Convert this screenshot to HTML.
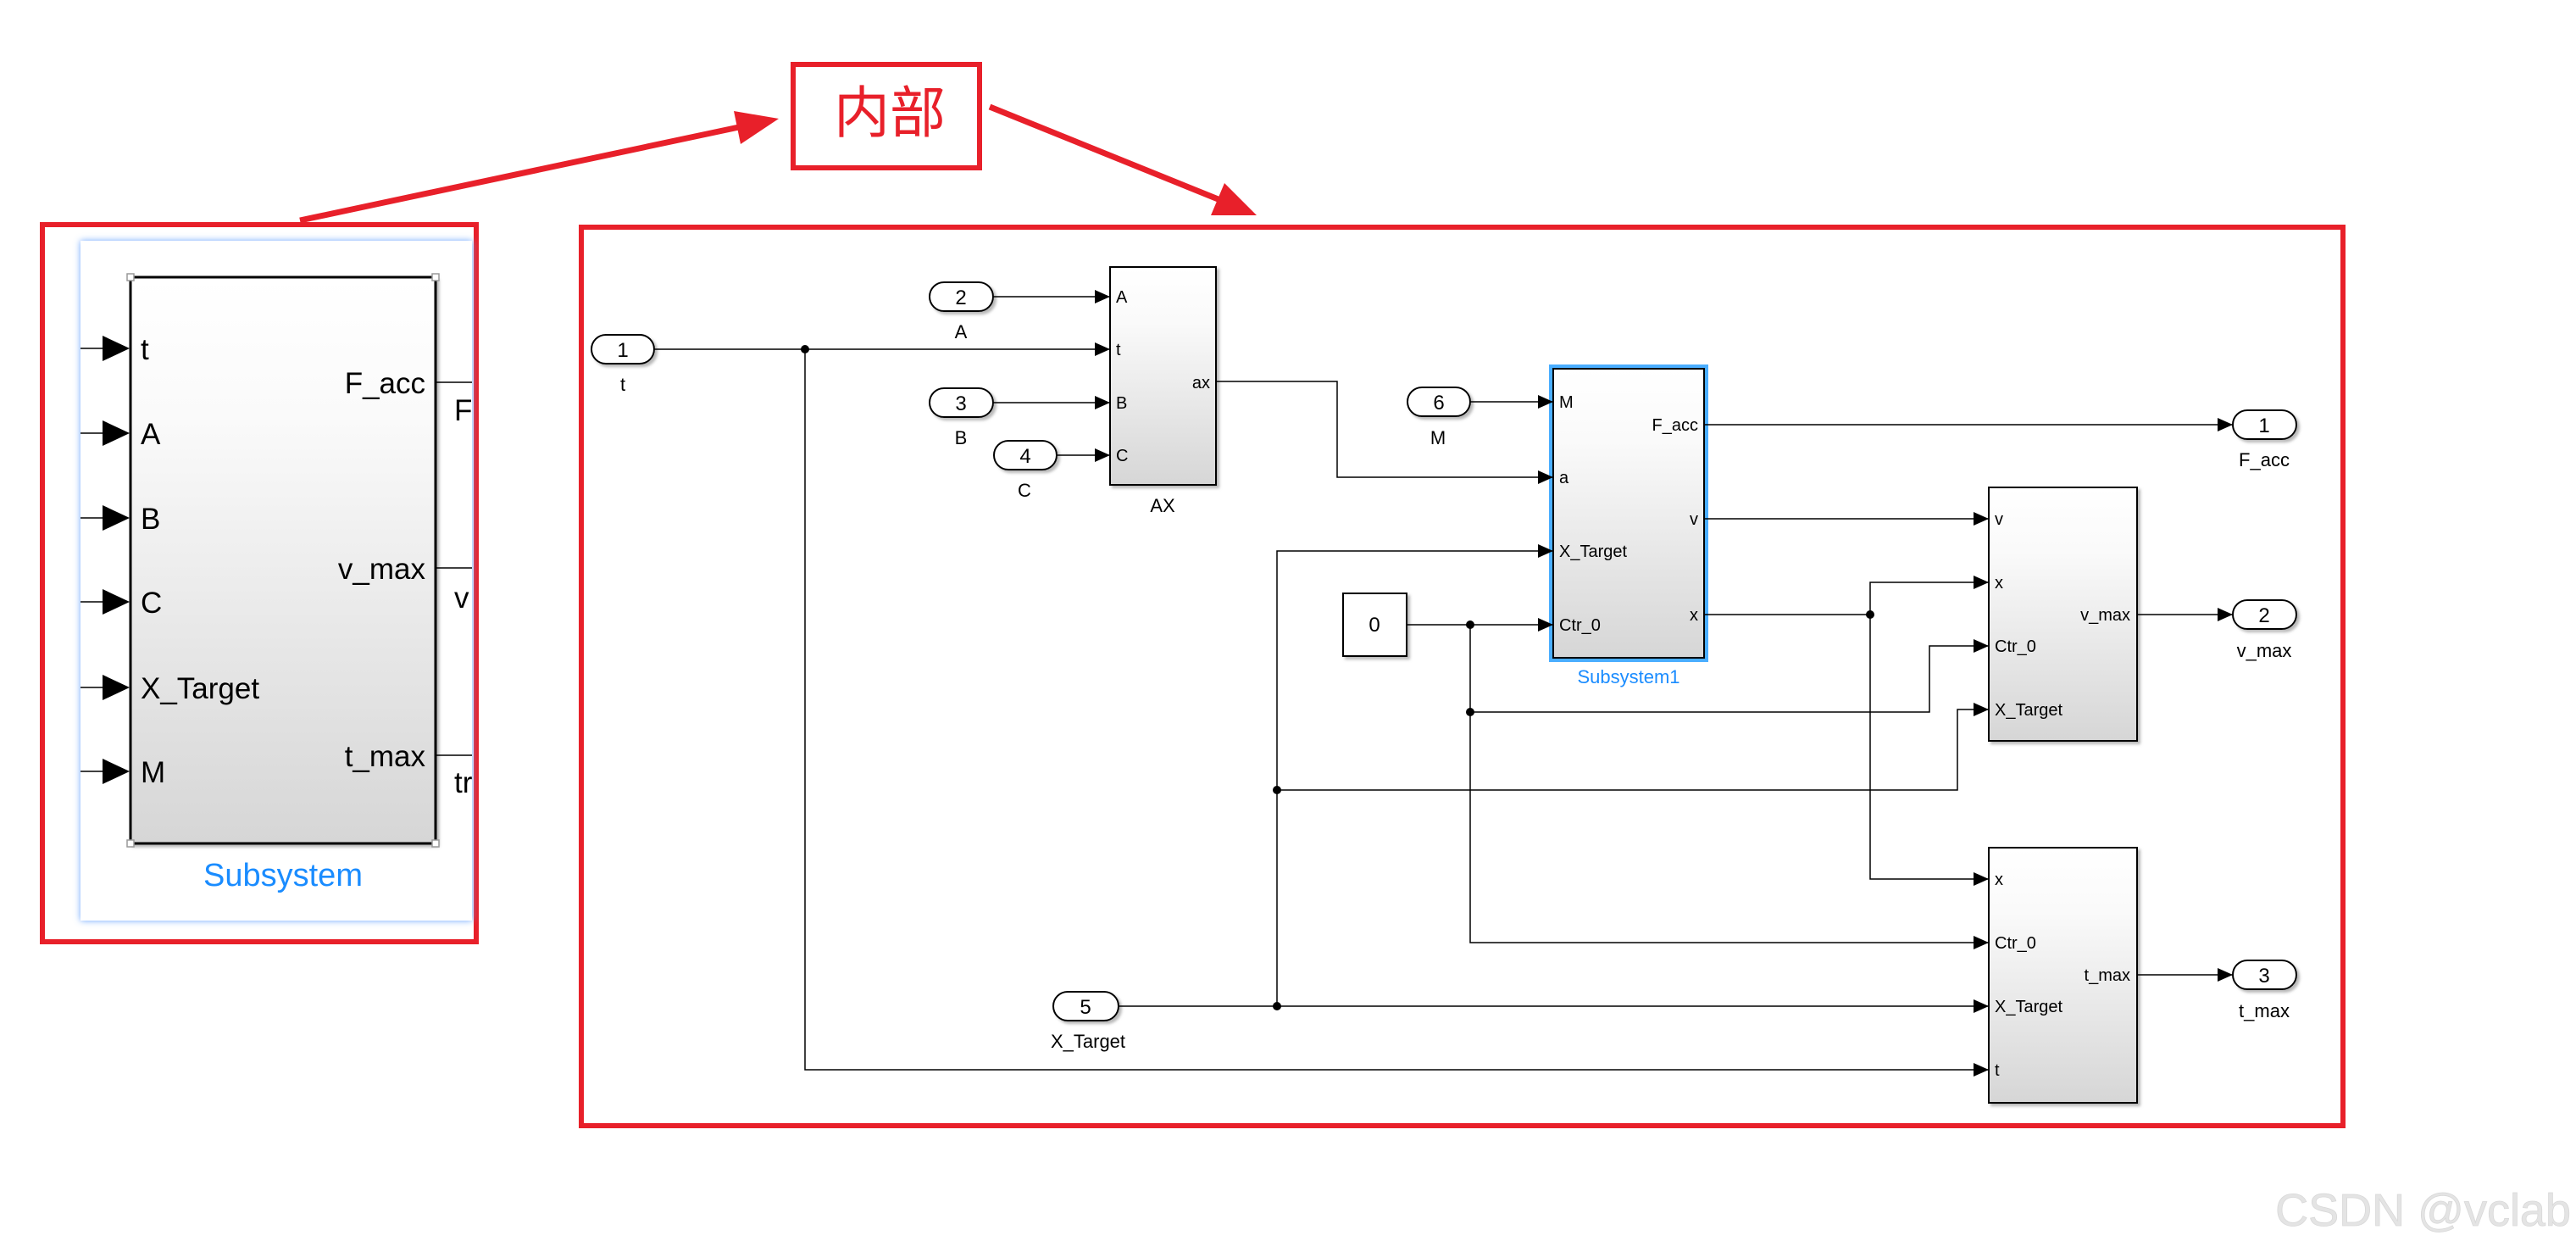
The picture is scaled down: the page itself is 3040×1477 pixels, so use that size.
<!DOCTYPE html>
<html><head><meta charset="utf-8"><style>
html,body{margin:0;padding:0;background:#fff;}
svg{display:block;}
text{font-family:"Liberation Sans","Noto Sans CJK SC",sans-serif;}
</style></head><body>
<svg width="3040" height="1477" viewBox="0 0 3040 1477" xmlns="http://www.w3.org/2000/svg">
<defs>
<marker id="a" markerUnits="userSpaceOnUse" markerWidth="18" markerHeight="16" refX="18" refY="8" orient="auto"><path d="M0,0 L18,8 L0,16 z" fill="#000"/></marker>
<linearGradient id="g" x1="0" y1="0" x2="0" y2="1"><stop offset="0" stop-color="#fff"/><stop offset="0.25" stop-color="#fafafa"/><stop offset="1" stop-color="#d6d6d6"/></linearGradient>
<filter id="sh" x="-10%" y="-10%" width="130%" height="130%"><feDropShadow dx="3" dy="3" stdDeviation="1.5" flood-color="#888" flood-opacity="0.6"/></filter>
<filter id="glow" x="-5%" y="-5%" width="110%" height="110%"><feDropShadow dx="0" dy="0" stdDeviation="4" flood-color="#6aa4ff" flood-opacity="1"/></filter>
</defs>

<rect x="936" y="76" width="220" height="122" fill="none" stroke="#e8202a" stroke-width="6"/>
<text x="1050" y="156" font-size="66" fill="#e8202a" text-anchor="middle">内部</text>
<line x1="354" y1="260" x2="872" y2="150" stroke="#e8202a" stroke-width="7"/>
<polygon points="919,140 874,170 866,131" fill="#e8202a"/>
<line x1="1168" y1="126" x2="1440" y2="236" stroke="#e8202a" stroke-width="7"/>
<polygon points="1483,254 1429,254 1445,216" fill="#e8202a"/>

<rect x="50" y="265" width="512" height="846" fill="none" stroke="#e8202a" stroke-width="6"/>
<rect x="95" y="284" width="462" height="802" fill="#fff" filter="url(#glow)"/>
<rect x="95" y="284" width="462" height="802" fill="#fff"/>
<rect x="154" y="327" width="360" height="668" fill="url(#g)" stroke="#000" stroke-width="3" filter="url(#sh)"/>
<g fill="#fff" stroke="#999" stroke-width="1.5">
<rect x="150" y="323" width="8" height="8"/><rect x="510" y="323" width="8" height="8"/>
<rect x="150" y="991" width="8" height="8"/><rect x="510" y="991" width="8" height="8"/></g>
<g stroke="#000" stroke-width="1.5">
<line x1="95" y1="411" x2="122" y2="411"/><line x1="95" y1="511" x2="122" y2="511"/><line x1="95" y1="611" x2="122" y2="611"/>
<line x1="95" y1="710" x2="122" y2="710"/><line x1="95" y1="811" x2="122" y2="811"/><line x1="95" y1="910" x2="122" y2="910"/>
<line x1="515" y1="451" x2="557" y2="451"/><line x1="515" y1="670" x2="557" y2="670"/><line x1="515" y1="891" x2="557" y2="891"/>
</g>
<g fill="#000">
<polygon points="121,396 153,411 121,426"/><polygon points="121,496 153,511 121,526"/><polygon points="121,596 153,611 121,626"/>
<polygon points="121,695 153,710 121,725"/><polygon points="121,796 153,811 121,826"/><polygon points="121,895 153,910 121,925"/>
</g>
<g font-size="35" fill="#000">
<text x="166" y="424">t</text><text x="166" y="524">A</text><text x="166" y="624">B</text>
<text x="166" y="723">C</text><text x="166" y="824">X_Target</text><text x="166" y="923">M</text>
<text x="502" y="464" text-anchor="end">F_acc</text><text x="502" y="683" text-anchor="end">v_max</text><text x="502" y="904" text-anchor="end">t_max</text>
<text x="536" y="496">F</text><text x="536" y="717">v</text><text x="536" y="935">tr</text>
</g>
<text x="334" y="1045" font-size="38" fill="#1a8cff" text-anchor="middle">Subsystem</text>

<rect x="686" y="268" width="2079" height="1060" fill="none" stroke="#e8202a" stroke-width="6"/>

<g fill="#fff" stroke="#000" stroke-width="2" filter="url(#sh)">
<rect x="698" y="395" width="74" height="34" rx="17"/>
<rect x="1097" y="333" width="75" height="34" rx="17"/>
<rect x="1097" y="458" width="75" height="34" rx="17"/>
<rect x="1173" y="520" width="74" height="34" rx="17"/>
<rect x="1661" y="457" width="74" height="34" rx="17"/>
<rect x="1243" y="1170" width="77" height="34" rx="17"/>
<rect x="2635" y="484" width="75" height="34" rx="17"/>
<rect x="2635" y="708" width="75" height="34" rx="17"/>
<rect x="2635" y="1133" width="75" height="34" rx="17"/>
<rect x="1585" y="700" width="75" height="74" rx="0"/>
</g>
<g font-size="24" fill="#000" text-anchor="middle">
<text x="735" y="421">1</text><text x="1134" y="359">2</text><text x="1134" y="484">3</text><text x="1210" y="546">4</text>
<text x="1698" y="483">6</text><text x="1281" y="1196">5</text><text x="2672" y="510">1</text><text x="2672" y="734">2</text><text x="2672" y="1159">3</text>
<text x="1622" y="745">0</text>
</g>
<g font-size="22" fill="#000" text-anchor="middle">
<text x="735" y="461">t</text><text x="1134" y="399">A</text><text x="1134" y="524">B</text><text x="1209" y="586">C</text>
<text x="1697" y="524">M</text><text x="1284" y="1236">X_Target</text><text x="1372" y="604">AX</text>
<text x="2672" y="550">F_acc</text><text x="2672" y="775">v_max</text><text x="2672" y="1200">t_max</text>
</g>

<g fill="url(#g)" stroke="#000" stroke-width="2" filter="url(#sh)">
<rect x="1310" y="315" width="125" height="257"/>
<rect x="2347" y="575" width="175" height="299"/>
<rect x="2347" y="1000" width="175" height="301"/>
</g>
<rect x="1830" y="432" width="184" height="347" fill="none" stroke="#4aaeff" stroke-width="4"/>
<rect x="1833" y="435" width="178" height="341" fill="url(#g)" stroke="#000" stroke-width="2"/>
<text x="1922" y="806" font-size="22" fill="#1a8cff" text-anchor="middle">Subsystem1</text>

<g font-size="20" fill="#000">
<text x="1317" y="357">A</text><text x="1317" y="419">t</text><text x="1317" y="482">B</text><text x="1317" y="544">C</text>
<text x="1428" y="458" text-anchor="end">ax</text>
<text x="1840" y="481">M</text><text x="1840" y="570">a</text><text x="1840" y="657">X_Target</text><text x="1840" y="744">Ctr_0</text>
<text x="2004" y="508" text-anchor="end">F_acc</text><text x="2004" y="619" text-anchor="end">v</text><text x="2004" y="732" text-anchor="end">x</text>
<text x="2354" y="619">v</text><text x="2354" y="694">x</text><text x="2354" y="769">Ctr_0</text><text x="2354" y="844">X_Target</text>
<text x="2514" y="732" text-anchor="end">v_max</text>
<text x="2354" y="1044">x</text><text x="2354" y="1119">Ctr_0</text><text x="2354" y="1194">X_Target</text><text x="2354" y="1269">t</text>
<text x="2514" y="1157" text-anchor="end">t_max</text>
</g>

<g fill="none" stroke="#000" stroke-width="1.5">
<path d="M772,412 H1310" marker-end="url(#a)"/>
<path d="M1172,350 H1310" marker-end="url(#a)"/>
<path d="M1172,475 H1310" marker-end="url(#a)"/>
<path d="M1247,537 H1310" marker-end="url(#a)"/>
<path d="M950,412 V1262 H2347" marker-end="url(#a)"/>
<path d="M1435,450 H1578 V563 H1833" marker-end="url(#a)"/>
<path d="M1735,474 H1833" marker-end="url(#a)"/>
<path d="M1320,1187 H2347" marker-end="url(#a)"/>
<path d="M1507,1187 V650 H1833" marker-end="url(#a)"/>
<path d="M1507,932 H2310 V837 H2347" marker-end="url(#a)"/>
<path d="M1660,737 H1833" marker-end="url(#a)"/>
<path d="M1735,737 V1112 H2347" marker-end="url(#a)"/>
<path d="M1735,840 H2277 V762 H2347" marker-end="url(#a)"/>
<path d="M2011,501 H2635" marker-end="url(#a)"/>
<path d="M2011,612 H2347" marker-end="url(#a)"/>
<path d="M2011,725 H2207 V687 H2347" marker-end="url(#a)"/>
<path d="M2207,725 V1037 H2347" marker-end="url(#a)"/>
<path d="M2522,725 H2635" marker-end="url(#a)"/>
<path d="M2522,1150 H2635" marker-end="url(#a)"/>
</g>
<g fill="#000">
<circle cx="950" cy="412" r="5"/><circle cx="1507" cy="1187" r="5"/><circle cx="1507" cy="932" r="5"/>
<circle cx="1735" cy="737" r="5"/><circle cx="1735" cy="840" r="5"/><circle cx="2207" cy="725" r="5"/>
</g>

<text x="3034" y="1446" font-size="54" fill="#e4e4e4" stroke="#d8d8d8" stroke-width="0.8" text-anchor="end">CSDN @vclab</text>
</svg>
</body></html>
